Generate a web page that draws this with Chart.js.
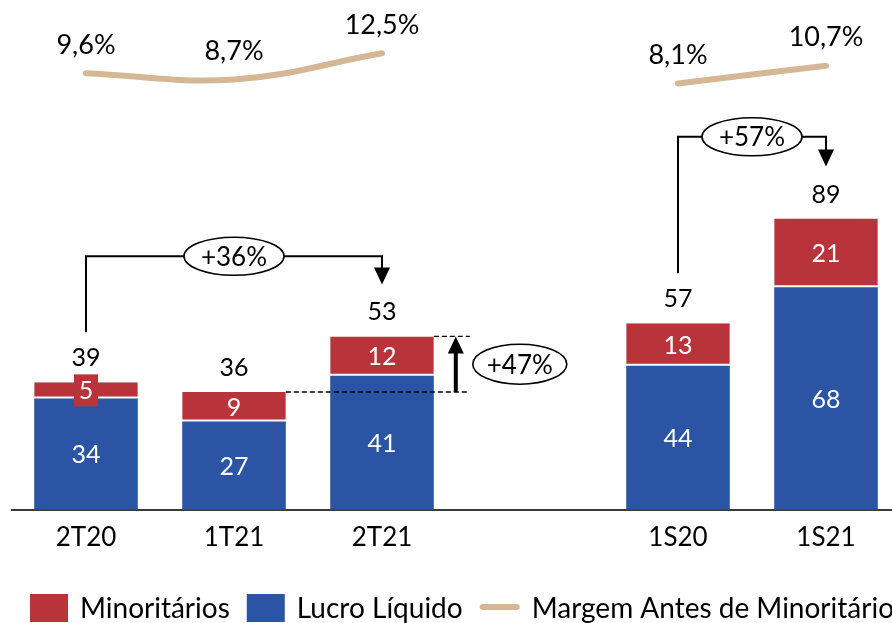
<!DOCTYPE html>
<html><head><meta charset="utf-8">
<script src="https://cdn.jsdelivr.net/npm/chart.js@4.4.1/dist/chart.umd.min.js"></script>
<style>
html,body{margin:0;padding:0;background:#fff;overflow:hidden;}
#wrap{width:900px;height:623px;position:relative;}
</style></head><body>
<div id="wrap"><canvas id="c" width="900" height="623"></canvas></div>
<script>
// ---- data ----
const categories = ['2T20', '1T21', '2T21', '', '1S20', '1S21'];
const lucroLiquido = [34, 27, 41, null, 44, 68];
const minoritarios = [5, 9, 12, null, 13, 21];
const totals = [39, 36, 53, null, 57, 89];
const margem = [9.6, 8.7, 12.5, null, 8.1, 10.7];
const margemLabels = ['9,6%', '8,7%', '12,5%', null, '8,1%', '10,7%'];
const seriesNames = ['Minoritários', 'Lucro Líquido', 'Margem Antes de Minoritários'];
const bracketGrowth = [
  { from: 0, to: 2, label: '+36%', level: 77.5 },
  { from: 4, to: 5, label: '+57%', level: 114 }
];
const stepGrowth = { from: 1, to: 2, label: '+47%' };

const RED = '#B8343A', BLUE = '#2B55A4', TAN = '#D4B896';
const FONT = 'Lato, "Open Sans", sans-serif';

function ellipse(ctx, cx, cy, rx, ry, text) {
  ctx.save();
  ctx.beginPath();
  ctx.ellipse(cx, cy, rx, ry, 0, 0, Math.PI * 2);
  ctx.fillStyle = '#fff'; ctx.fill();
  ctx.lineWidth = 1.6; ctx.strokeStyle = '#000'; ctx.stroke();
  ctx.fillStyle = '#000';
  ctx.font = '26px ' + FONT;
  ctx.textAlign = 'center'; ctx.textBaseline = 'middle';
  ctx.fillText(text, cx, cy + 1);
  ctx.restore();
}
function arrowHead(ctx, x, tipY, dir, hw, h) {
  ctx.beginPath();
  ctx.moveTo(x, tipY);
  ctx.lineTo(x - hw, tipY - dir * h);
  ctx.lineTo(x + hw, tipY - dir * h);
  ctx.closePath();
  ctx.fillStyle = '#000'; ctx.fill();
}

const overlay = {
  id: 'overlay',
  afterDatasetsDraw(chart) {
    const ctx = chart.ctx;
    const blue = chart.getDatasetMeta(0), red = chart.getDatasetMeta(1), line = chart.getDatasetMeta(2);
    ctx.save();
    ctx.textAlign = 'center'; ctx.textBaseline = 'middle';
    // segment labels
    [[blue, lucroLiquido, BLUE], [red, minoritarios, RED]].forEach(([meta, vals, col]) => {
      meta.data.forEach((el, i) => {
        if (vals[i] == null) return;
        const cy = (el.y + el.base) / 2;
        const h = Math.abs(el.base - el.y);
        ctx.font = '25px ' + FONT;
        if (h < 28) {
          ctx.fillStyle = col;
          ctx.fillRect(el.x - 12, cy - 16, 24, 32);
        }
        ctx.fillStyle = '#fff';
        ctx.fillText(String(vals[i]), el.x, cy + 1);
      });
    });
    // totals
    ctx.fillStyle = '#000';
    ctx.font = '25px ' + FONT;
    red.data.forEach((el, i) => {
      if (totals[i] == null) return;
      ctx.fillText(String(totals[i]), el.x, el.y - 24);
    });
    // margin labels
    ctx.font = '27px ' + FONT;
    line.data.forEach((pt, i) => {
      if (margemLabels[i] == null) return;
      ctx.fillText(margemLabels[i], pt.x, pt.y - 28);
    });
    // brackets
    const ys = chart.scales.y;
    ctx.strokeStyle = '#000'; ctx.lineWidth = 2;
    bracketGrowth.forEach(b => {
      const a = red.data[b.from], t = red.data[b.to];
      const yl = ys.getPixelForValue(b.level);
      ctx.beginPath();
      ctx.moveTo(a.x, a.y - 50);
      ctx.lineTo(a.x, yl);
      ctx.lineTo(t.x, yl);
      ctx.lineTo(t.x, t.y - 68);
      ctx.stroke();
      arrowHead(ctx, t.x, t.y - 52, 1, 8, 17);
      ellipse(ctx, (a.x + t.x) / 2, yl, 50, 19, b.label);
    });
    // step growth (+47%)
    const s0 = red.data[stepGrowth.from], s1 = red.data[stepGrowth.to];
    const r0 = s0.x + s0.width / 2, r1 = s1.x + s1.width / 2;
    const ax = r1 + 22, endX = r1 + 36;
    ctx.save();
    ctx.setLineDash([5, 3]); ctx.lineWidth = 1.3;
    ctx.beginPath();
    ctx.moveTo(r0, s0.y); ctx.lineTo(endX, s0.y);
    ctx.moveTo(r1, s1.y); ctx.lineTo(endX, s1.y);
    ctx.stroke();
    ctx.restore();
    ctx.lineWidth = 4;
    ctx.beginPath(); ctx.moveTo(ax, s0.y); ctx.lineTo(ax, s1.y + 14); ctx.stroke();
    arrowHead(ctx, ax, s1.y, -1, 8, 17);
    ellipse(ctx, ax + 64, (s0.y + s1.y) / 2, 47, 20, stepGrowth.label);
    // legend
    const ly = 608;
    let x = 30;
    ctx.font = '28px ' + FONT;
    ctx.textAlign = 'left';
    const items = [[seriesNames[0], RED, 'box'], [seriesNames[1], BLUE, 'box'], [seriesNames[2], TAN, 'line']];
    items.forEach(([txt, col, kind]) => {
      if (kind === 'box') {
        ctx.fillStyle = col; ctx.fillRect(x, ly - 14, 38, 28);
        x += 50;
      } else {
        ctx.strokeStyle = col; ctx.lineWidth = 6; ctx.lineCap = 'round';
        ctx.beginPath(); ctx.moveTo(x + 3, ly - 1); ctx.lineTo(x + 37, ly - 1); ctx.stroke();
        x += 52;
      }
      ctx.fillStyle = '#000';
      ctx.fillText(txt, x, ly + 1);
      x += ctx.measureText(txt).width + 17;
    });
    ctx.restore();
  }
};

new Chart(document.getElementById('c'), {
  type: 'bar',
  data: {
    labels: categories,
    datasets: [
      { label: seriesNames[1], data: lucroLiquido, backgroundColor: BLUE, borderWidth: 0, stack: 's', order: 2 },
      { label: seriesNames[0], data: minoritarios, backgroundColor: RED, borderColor: '#fff',
        borderWidth: { top: 0, left: 0, right: 0, bottom: 2 }, borderSkipped: false, stack: 's', order: 2 },
      { type: 'line', label: seriesNames[2], data: margem, yAxisID: 'y2', borderColor: TAN, borderWidth: 6,
        borderCapStyle: 'round', borderJoinStyle: 'round', pointRadius: 0, tension: 0.4, spanGaps: false, order: 1, clip: false }
    ]
  },
  options: {
    responsive: false,
    animation: false,
    layout: { padding: { left: 12, right: 0, top: 19, bottom: 58 } },
    datasets: { bar: { barPercentage: 0.7, categoryPercentage: 1.0 } },
    plugins: { legend: { display: false }, tooltip: { enabled: false } },
    scales: {
      x: {
        stacked: true,
        grid: { display: false, drawTicks: false },
        border: { display: true, color: '#3a3a3a', width: 2 },
        ticks: { color: '#000', font: { family: FONT, size: 26 }, padding: 12, maxRotation: 0, autoSkip: false }
      },
      y: { stacked: true, display: false, min: 0, max: 150 },
      y2: { display: false, min: -54, max: 17.5, stacked: false }
    }
  },
  plugins: [overlay]
});
</script>
</body></html>
